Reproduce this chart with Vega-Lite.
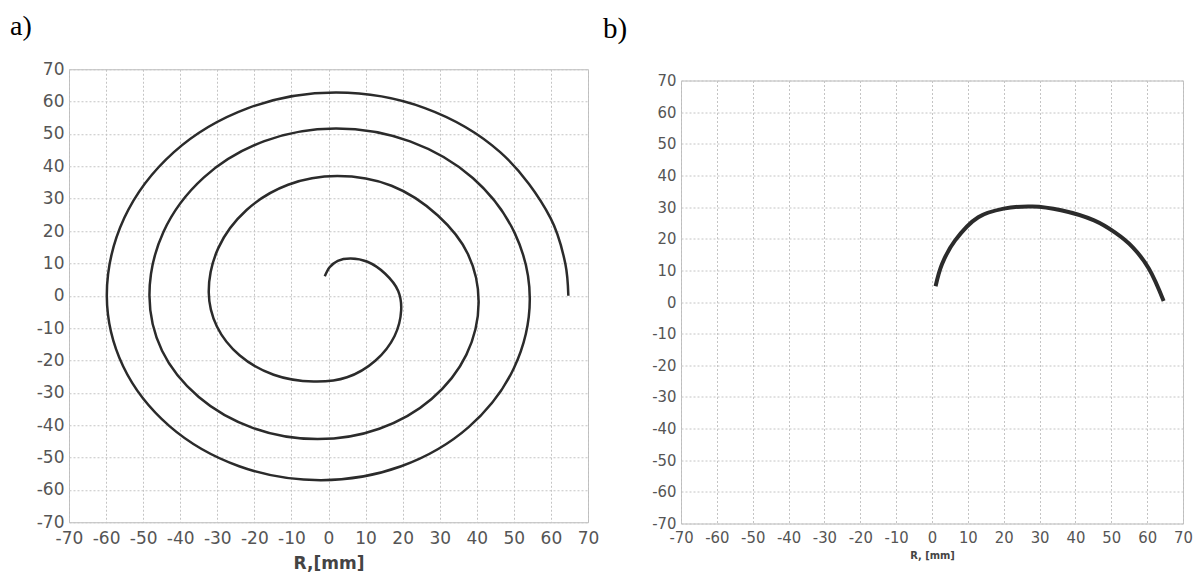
{
  "$schema": "https://vega.github.io/schema/vega-lite/v6.json",
  "background": "white",
  "padding": {"left": 9, "top": 12, "right": 2, "bottom": 2},
  "spacing": 2,
  "center": true,
  "config": {
    "view": {"stroke": "#bdbdbd", "strokeWidth": 1},
    "axis": {
      "grid": true,
      "gridDash": [2, 2],
      "gridColor": "#c4c4c4",
      "gridWidth": 1,
      "domain": false,
      "ticks": false,
      "labelOverlap": false,
      "labelFlush": false,
      "labelExpr": "'' + datum.value",
      "labelColor": "#555555",
      "titleColor": "#444444"
    },
    "title": {"font": "Liberation Serif", "fontSize": 28, "fontWeight": "normal", "anchor": "start", "color": "#000000", "frame": "group"}
  },
  "datasets": {
    "spiral": [
      {"i": 1, "x": -1, "y": 6}, {"i": 2, "x": 0.3, "y": 8.8}, {"i": 3, "x": 2.5, "y": 10.8}, {"i": 4, "x": 6, "y": 11.5},
      {"i": 5, "x": 10.5, "y": 10.5}, {"i": 6, "x": 15.3, "y": 6.8}, {"i": 7, "x": 18.8, "y": 1.5}, {"i": 8, "x": 19.6, "y": -4.5},
      {"i": 9, "x": 17.8, "y": -12.5}, {"i": 10, "x": 12.7, "y": -20}, {"i": 11, "x": 5, "y": -25.2}, {"i": 12, "x": -4, "y": -26.5},
      {"i": 13, "x": -14.8, "y": -24.4}, {"i": 14, "x": -24, "y": -18.4}, {"i": 15, "x": -30.1, "y": -9.5}, {"i": 16, "x": -32.3, "y": 1},
      {"i": 17, "x": -29.7, "y": 14.8}, {"i": 18, "x": -22.1, "y": 26.5}, {"i": 19, "x": -10.9, "y": 34.3}, {"i": 20, "x": 2.4, "y": 37},
      {"i": 21, "x": 17, "y": 34}, {"i": 22, "x": 29.5, "y": 24.8}, {"i": 23, "x": 37.6, "y": 12.9}, {"i": 24, "x": 40.5, "y": -2},
      {"i": 25, "x": 37.2, "y": -18.2}, {"i": 26, "x": 27.8, "y": -31.9}, {"i": 27, "x": 13.7, "y": -41.1}, {"i": 28, "x": -3, "y": -44.3},
      {"i": 29, "x": -20.3, "y": -40.9}, {"i": 30, "x": -35, "y": -31.3}, {"i": 31, "x": -44.9, "y": -17}, {"i": 32, "x": -48.3, "y": 0},
      {"i": 33, "x": -44.5, "y": 19.8}, {"i": 34, "x": -33.6, "y": 36.6}, {"i": 35, "x": -17.3, "y": 47.8}, {"i": 36, "x": 2, "y": 51.7},
      {"i": 37, "x": 22, "y": 47.7}, {"i": 38, "x": 39, "y": 36.3}, {"i": 39, "x": 50.3, "y": 19.2}, {"i": 40, "x": 54.3, "y": -1},
      {"i": 41, "x": 50, "y": -22.4}, {"i": 42, "x": 37.8, "y": -40.6}, {"i": 43, "x": 19.6, "y": -52.7}, {"i": 44, "x": -2, "y": -57},
      {"i": 45, "x": -24.1, "y": -52.7}, {"i": 46, "x": -42.9, "y": -40.3}, {"i": 47, "x": -55.4, "y": -21.8}, {"i": 48, "x": -59.8, "y": 0},
      {"i": 49, "x": -55.1, "y": 24}, {"i": 50, "x": -41.7, "y": 44.4}, {"i": 51, "x": -21.7, "y": 58}, {"i": 52, "x": 2, "y": 62.8},
      {"i": 53, "x": 26, "y": 58}, {"i": 54, "x": 46.3, "y": 44.4}, {"i": 55, "x": 59.9, "y": 24}, {"i": 56, "x": 63.9, "y": 9.8},
      {"i": 57, "x": 64.7, "y": 0}
    ],
    "arc": [
      {"i": 1, "x": 1, "y": 5}, {"i": 2, "x": 2.8, "y": 12}, {"i": 3, "x": 6.4, "y": 19.4}, {"i": 4, "x": 12.9, "y": 26.8},
      {"i": 5, "x": 20, "y": 29.5}, {"i": 6, "x": 28, "y": 30.2}, {"i": 7, "x": 36, "y": 29}, {"i": 8, "x": 45.2, "y": 25.8},
      {"i": 9, "x": 51, "y": 22}, {"i": 10, "x": 56, "y": 17.3}, {"i": 11, "x": 60.5, "y": 10.5}, {"i": 12, "x": 64.6, "y": 0.3}
    ]
  },
  "hconcat": [
    {
      "width": 519,
      "height": 453,
      "title": {"text": "a)", "dx": -59, "offset": 19},
      "data": {"name": "spiral"},
      "mark": {"type": "line", "color": "#2b2b2b", "strokeWidth": 2.5, "interpolate": "catmull-rom"},
      "encoding": {
        "x": {"field": "x", "type": "quantitative", "scale": {"domain": [-70, 70], "nice": false}, "axis": {"values": [-70,-60,-50,-40,-30,-20,-10,0,10,20,30,40,50,60,70], "title": "R,[mm]", "labelFont": "DejaVu Sans", "labelFontSize": 17, "titleFont": "DejaVu Sans", "titleFontSize": 17, "titleFontWeight": "bold", "labelPadding": 8, "titlePadding": 9}},
        "y": {"field": "y", "type": "quantitative", "scale": {"domain": [-70, 70], "nice": false}, "axis": {"values": [-70,-60,-50,-40,-30,-20,-10,0,10,20,30,40,50,60,70], "title": null, "labelFont": "DejaVu Sans", "labelFontSize": 17, "labelPadding": 5}},
        "order": {"field": "i", "type": "quantitative"}
      }
    },
    {
      "width": 502,
      "height": 443,
      "title": {"text": "b)", "dx": -78, "offset": 29, "fontSize": 29},
      "data": {"name": "arc"},
      "mark": {"type": "line", "color": "#2b2b2b", "strokeWidth": 4, "interpolate": "catmull-rom"},
      "encoding": {
        "x": {"field": "x", "type": "quantitative", "scale": {"domain": [-70, 70], "nice": false}, "axis": {"values": [-70,-60,-50,-40,-30,-20,-10,0,10,20,30,40,50,60,70], "title": "R, [mm]", "labelFont": "DejaVu Sans Condensed, Liberation Sans", "labelFontSize": 16.5, "titleFont": "DejaVu Sans Condensed, Liberation Sans", "titleFontSize": 11, "titleFontWeight": "bold", "labelPadding": 6, "titlePadding": 3}},
        "y": {"field": "y", "type": "quantitative", "scale": {"domain": [-70, 70], "nice": false}, "axis": {"values": [-70,-60,-50,-40,-30,-20,-10,0,10,20,30,40,50,60,70], "title": null, "labelFont": "DejaVu Sans Condensed, Liberation Sans", "labelFontSize": 16.5, "labelPadding": 5}},
        "order": {"field": "i", "type": "quantitative"}
      }
    }
  ]
}
